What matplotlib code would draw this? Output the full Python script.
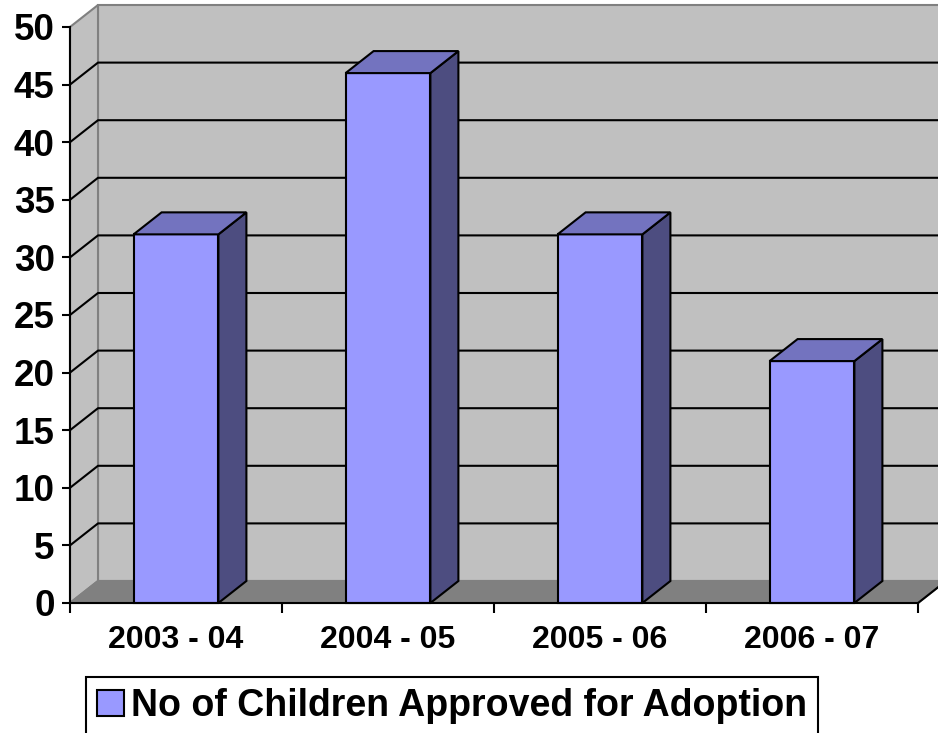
import matplotlib
matplotlib.use("Agg")
import matplotlib.pyplot as plt
from matplotlib.patches import Patch, Polygon, Rectangle

categories = ["2003 - 04", "2004 - 05", "2005 - 06", "2006 - 07"]
children_approved = [32, 46, 32, 21]
y_ticks = list(range(0, 51, 5))
series_label = "No of Children Approved for Adoption"

FRONT = "#9999FF"
SIDE = "#4D4D80"
TOP = "#7373BF"
WALL = "#C0C0C0"
FLOOR = "#808080"
WALL_EDGE = "#808080"

plt.rcParams["font.family"] = ["Liberation Sans", "DejaVu Sans"]
plt.rcParams["font.weight"] = "bold"

fig = plt.figure(figsize=(9.38, 7.33), dpi=100)
ax = fig.add_axes([70 / 938, 130 / 733, 848 / 938, 576 / 733])
n = len(categories)
y_max = y_ticks[-1]
ax.set_xlim(0, n)
ax.set_ylim(0, y_max)
ax.patch.set_visible(False)

# depth offset of the fake 3d walls, in data units
dx = 28 / (848 / n)
dy = 22 / (576 / y_max)

# back wall, side wall, floor
ax.add_patch(Rectangle((dx, dy), n, y_max, facecolor=WALL, edgecolor=WALL_EDGE,
                       lw=1.5, clip_on=False, zorder=0))
ax.add_patch(Polygon([(0, 0), (dx, dy), (dx, y_max + dy), (0, y_max)], closed=True,
                     facecolor=WALL, edgecolor=WALL_EDGE, lw=1.5, clip_on=False, zorder=0))
ax.add_patch(Polygon([(0, 0), (n, 0), (n + dx, dy), (dx, dy)], closed=True,
                     facecolor=FLOOR, edgecolor=WALL_EDGE, lw=1.5, clip_on=False, zorder=0.5))
ax.plot([n, n + dx], [0, dy], color="black", lw=1.5, clip_on=False, zorder=0.6)

for v in y_ticks[1:-1]:
    ax.plot([0, dx, n + dx], [v, v + dy, v + dy], color="black", lw=1.5,
            clip_on=False, zorder=1)

bar_w = 0.4
for i, v in enumerate(children_approved):
    x0 = i + 0.5 - bar_w / 2
    x1 = x0 + bar_w
    ax.add_patch(Rectangle((x0, 0), bar_w, v, facecolor=FRONT, edgecolor="black",
                           lw=1.5, clip_on=False, zorder=3))
    ax.add_patch(Polygon([(x1, 0), (x1 + dx, dy), (x1 + dx, v + dy), (x1, v)], closed=True,
                         facecolor=SIDE, edgecolor="black", lw=1.5, clip_on=False, zorder=3))
    ax.add_patch(Polygon([(x0, v), (x1, v), (x1 + dx, v + dy), (x0 + dx, v + dy)], closed=True,
                         facecolor=TOP, edgecolor="black", lw=1.5, clip_on=False, zorder=3))

for side in ["top", "right"]:
    ax.spines[side].set_visible(False)
for side in ["left", "bottom"]:
    ax.spines[side].set_color("black")
    ax.spines[side].set_linewidth(1.5)
    ax.spines[side].set_zorder(4)

ax.set_yticks(y_ticks)
ax.set_yticklabels([str(t) for t in y_ticks])
ax.tick_params(axis="y", length=6, width=1.5, pad=5, labelsize=26.5)

ax.set_xticks(range(n + 1))
ax.set_xticklabels([])
ax.set_xticks([i + 0.5 for i in range(n)], minor=True)
ax.set_xticklabels(categories, minor=True)
ax.tick_params(axis="x", which="major", length=7.5, width=1.5)
ax.tick_params(axis="x", which="minor", length=0, pad=16, labelsize=23)

fig.legend(handles=[Patch(facecolor=FRONT, edgecolor="black", lw=1.5)],
           labels=[series_label], loc="upper left",
           bbox_to_anchor=(86 / 938, 1 - 677 / 733), prop={"size": 27, "weight": "bold"},
           frameon=True, fancybox=False, edgecolor="black", framealpha=1,
           borderpad=0.3, handlelength=0.7, handleheight=0.7, handletextpad=0.2,
           borderaxespad=0)
fig.legends[0].get_frame().set_linewidth(1.5)

fig.savefig("out.png", dpi=100)
